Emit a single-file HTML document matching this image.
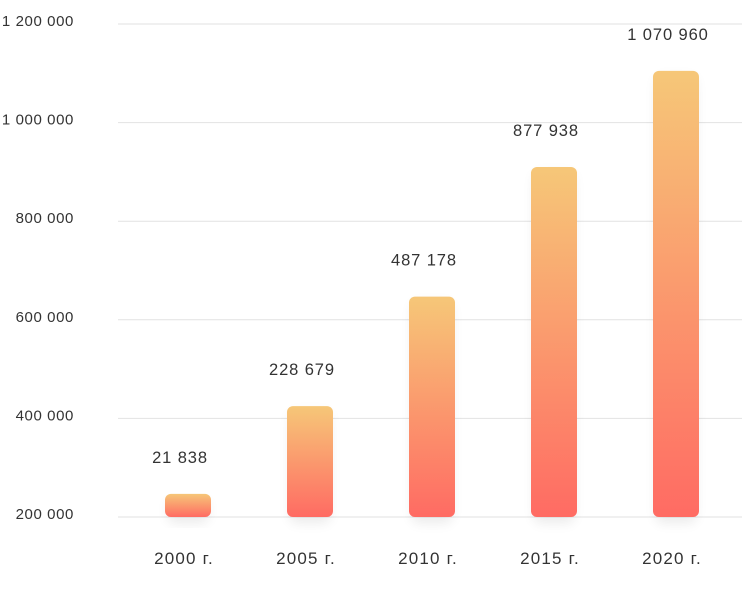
<!DOCTYPE html>
<html><head><meta charset="utf-8"><style>
body{margin:0;background:#fff;}
svg text{font-family:"Liberation Sans",sans-serif;fill:#333;}
</style></head><body>
<svg id="c" width="742" height="586">
<defs>
<linearGradient id="g" x1="0" y1="0" x2="0" y2="1"><stop offset="0" stop-color="#f6c778"/><stop offset="1" stop-color="#ff6b63"/></linearGradient>
<filter id="sh" x="-50%" y="-20%" width="200%" height="140%"><feGaussianBlur stdDeviation="6"/></filter>
</defs>
</svg>
<script>
const categories=["2000 г.","2005 г.","2010 г.","2015 г.","2020 г."];
const values=[247000,425000,647000,910000,1105000];
const valueLabels=["21 838","228 679","487 178","877 938","1 070 960"];
const ticks=[200000,400000,600000,800000,1000000,1200000];
const tickLabels=["200 000","400 000","600 000","800 000","1 000 000","1 200 000"];
const svg=document.getElementById('c');const NS='http://www.w3.org/2000/svg';
const y0=517,y1=24,vmin=200000,vmax=1200000;
const y=v=>y0-(v-vmin)/(vmax-vmin)*(y0-y1);
const x=i=>188+i*122;
function mk(t,a){const e=document.createElementNS(NS,t);for(const k in a)e.setAttribute(k,a[k]);svg.appendChild(e);return e;}
ticks.forEach((t,i)=>{
 const l=mk('line',{x1:118,x2:742,y1:y(t),y2:y(t),stroke:'#e2e2e2','stroke-width':1});
 
 
 const tx=mk('text',{x:74,y:y(t)+2,'font-size':15,'text-anchor':'end','letter-spacing':0.6});tx.textContent=tickLabels[i];
 
 
});
categories.forEach((c,i)=>{
 const top=y(values[i]),h=y0-top;
 const s=mk('rect',{x:x(i)-20,y:top+6,width:40,height:h,rx:6,fill:'#000',opacity:0.08,filter:'url(#sh)'});
 
 
 const b=mk('rect',{x:x(i)-23,y:top,width:46,height:h,rx:6,fill:'url(#g)'});
 
 
 const v=mk('text',{x:x(i)-8,y:top-31,'font-size':16.5,'text-anchor':'middle','letter-spacing':0.9});v.textContent=valueLabels[i];
 
 
 const ct=mk('text',{x:x(i)-4,y:564,'font-size':17,'text-anchor':'middle','letter-spacing':1.2});ct.textContent=c;
 
 
});
</script>
</body></html>
